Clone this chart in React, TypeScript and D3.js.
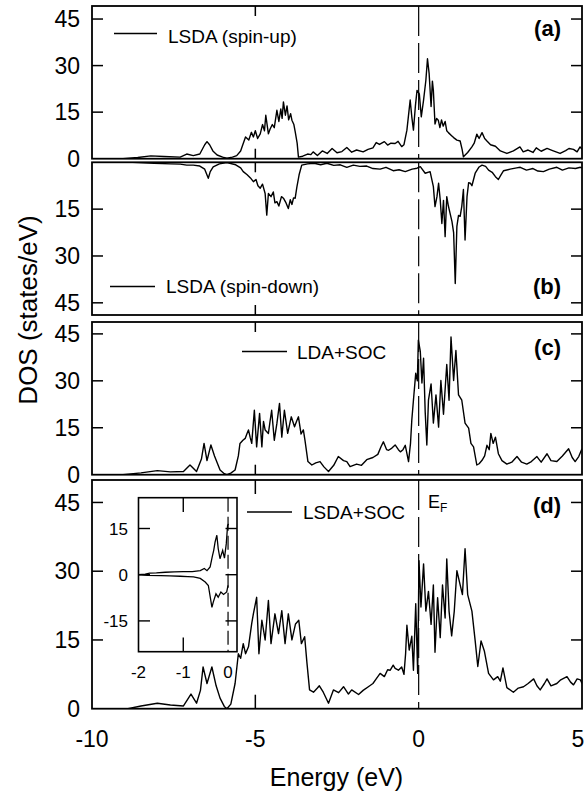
import React from 'react';
import * as d3 from 'd3';

type Pt = [number, number];

const energyTicks = [-10, -5, 0, 5];
const dosTicks = [0, 15, 30, 45];
const insetXTicks = [-2, -1, 0];
const insetYTicks = [-15, 0, 15];
const panelLabels = ['(a)', '(b)', '(c)', '(d)'];
const legendLabels = ['LSDA (spin-up)', 'LSDA (spin-down)', 'LDA+SOC', 'LSDA+SOC'];

// (a) LSDA spin-up DOS  [energy eV, states/eV]
const lsdaUp: Pt[] = [
  [-10, 0], [-9.05, 0], [-8.6, 0.4], [-8.2, 0.9], [-7.8, 0.7], [-7.3, 0.5], [-7.1, 1.5], [-6.9, 1.0], [-6.7, 1.5],
  [-6.55, 4.5], [-6.48, 5.5], [-6.4, 4.5], [-6.3, 2.5], [-6.17, 1.2], [-6.0, 0.5], [-5.87, 0.2], [-5.7, 0.5],
  [-5.57, 1], [-5.45, 2.5], [-5.4, 4], [-5.3, 7], [-5.2, 6], [-5.12, 8.5], [-5.06, 7], [-5.0, 9], [-4.93, 6.5],
  [-4.85, 8], [-4.78, 11], [-4.72, 9], [-4.68, 14], [-4.6, 8], [-4.55, 9.5], [-4.48, 11], [-4.42, 10],
  [-4.34, 15.6], [-4.28, 12], [-4.22, 16], [-4.18, 13], [-4.14, 18.3], [-4.08, 14], [-4.03, 17], [-3.98, 12.5],
  [-3.92, 14.5], [-3.88, 12.4], [-3.82, 11], [-3.78, 8.7], [-3.72, 5], [-3.68, 0.5], [-3.55, 0.8], [-3.4, 1.5],
  [-3.3, 1.3], [-3.23, 2.2], [-3.1, 1], [-2.95, 2.5], [-2.8, 1.7], [-2.65, 3.3], [-2.5, 1.9], [-2.35, 2.3],
  [-2.2, 3.6], [-2.05, 2.1], [-1.9, 2.8], [-1.7, 2.2], [-1.55, 3.0], [-1.4, 3.5], [-1.3, 5.2], [-1.2, 4.6],
  [-1.05, 5.5], [-0.95, 4.4], [-0.85, 5.0], [-0.72, 4.9], [-0.63, 5.6], [-0.52, 3.9], [-0.45, 4.5], [-0.36, 9.2],
  [-0.3, 15], [-0.26, 18.9], [-0.21, 13.5], [-0.16, 9.2], [-0.1, 17], [-0.05, 22], [0.02, 20.9], [0.08, 13.5],
  [0.15, 18.9], [0.22, 25.2], [0.27, 32.2], [0.32, 27.5], [0.38, 16.8], [0.42, 25], [0.45, 22], [0.5, 11.2],
  [0.55, 13], [0.6, 12.4], [0.65, 10], [0.7, 12.5], [0.75, 10.5], [0.81, 12], [0.86, 9], [0.91, 8.4], [1.0, 7.5],
  [1.07, 6.8], [1.17, 6], [1.27, 5.7], [1.33, 3], [1.37, 0.6], [1.5, 2], [1.63, 3.8], [1.7, 5], [1.78, 7.9],
  [1.85, 6.5], [1.94, 8.4], [2.02, 6.5], [2.09, 5.7], [2.2, 4.5], [2.35, 4], [2.5, 2.5], [2.7, 1.7], [2.9, 2.5],
  [3.1, 3.8], [3.2, 2.2], [3.35, 2.8], [3.5, 2], [3.6, 3.5], [3.75, 2.4], [3.93, 3.3], [4.1, 2.6], [4.33, 1.7],
  [4.5, 2.6], [4.6, 3.3], [4.74, 3], [4.85, 2.2], [4.94, 3.8], [5, 3],
];

// (b) LSDA spin-down DOS (plotted downward)
const lsdaDown: Pt[] = [
  [-10, 0], [-8.75, 0], [-8.1, 0.3], [-7.6, 0.5], [-7.3, 0.6], [-7.1, 0.9], [-6.9, 0.9], [-6.7, 1.2], [-6.55, 2.2],
  [-6.44, 5.1], [-6.38, 3], [-6.29, 1.5], [-6.1, 0.5], [-5.87, 0.1], [-5.6, 0.8], [-5.45, 1.8], [-5.37, 3],
  [-5.25, 4], [-5.15, 5], [-5.06, 6.2], [-4.98, 5.5], [-4.92, 7.5], [-4.85, 8.3], [-4.78, 7], [-4.7, 10],
  [-4.65, 16.9], [-4.6, 10], [-4.52, 11], [-4.45, 9.5], [-4.4, 13], [-4.34, 12.6], [-4.28, 14], [-4.2, 11],
  [-4.14, 11.5], [-4.06, 13], [-3.99, 14.8], [-3.93, 12], [-3.88, 13.5], [-3.83, 11.4], [-3.78, 11.5],
  [-3.73, 8], [-3.66, 4], [-3.58, 0.9], [-3.4, 0.5], [-3.2, 0.3], [-3.0, 0.8], [-2.81, 0.3], [-2.6, 1.0],
  [-2.4, 0.8], [-2.2, 1.6], [-2.0, 0.9], [-1.8, 1.3], [-1.59, 1.2], [-1.4, 2.0], [-1.18, 2.2], [-1.0, 1.6],
  [-0.78, 2.7], [-0.6, 2.4], [-0.41, 3.0], [-0.2, 2.2], [-0.05, 1.9], [0.05, 1.4], [0.2, 3.5], [0.35, 3],
  [0.45, 7.8], [0.5, 14.2], [0.56, 11], [0.61, 6.7], [0.66, 12], [0.71, 19.6], [0.76, 12.2], [0.81, 23.8],
  [0.86, 11], [0.91, 14], [0.96, 16.3], [1.02, 19], [1.07, 22.5], [1.12, 38.8], [1.17, 20.5], [1.22, 17],
  [1.27, 17.3], [1.32, 14.1], [1.37, 8.7], [1.42, 24.9], [1.48, 11], [1.53, 6.5], [1.58, 6.7], [1.63, 7.5],
  [1.73, 3.5], [1.85, 1.5], [1.94, 0.9], [2.05, 1.3], [2.14, 2.5], [2.25, 3.2], [2.35, 4.6], [2.44, 5.5],
  [2.52, 4], [2.6, 2.7], [2.8, 2.2], [3.0, 1.8], [3.11, 1.6], [3.3, 2.5], [3.5, 2], [3.65, 2.8], [3.82, 3],
  [4.0, 2.2], [4.23, 1.6], [4.4, 2.5], [4.6, 1.8], [4.8, 2], [4.95, 1.6], [5, 1.8],
];

// (c) LDA+SOC DOS
const ldaSoc: Pt[] = [
  [-10, 0], [-9.05, 0], [-8.5, 0.6], [-8.0, 1.3], [-7.6, 0.9], [-7.2, 1], [-7.0, 3.1], [-6.8, 1], [-6.65, 5],
  [-6.57, 10], [-6.48, 4.5], [-6.36, 9.5], [-6.25, 6], [-6.08, 1.5], [-5.95, 0.3], [-5.87, 0], [-5.75, 0.5],
  [-5.62, 1.5], [-5.52, 6], [-5.47, 10], [-5.38, 11], [-5.31, 11.6], [-5.26, 13], [-5.21, 14.3], [-5.16, 12],
  [-5.11, 10], [-5.03, 20.6], [-4.96, 8.9], [-4.87, 19.6], [-4.8, 8.9], [-4.75, 17], [-4.7, 14.3], [-4.6, 13.2],
  [-4.55, 17], [-4.5, 20.6], [-4.42, 11], [-4.34, 16.4], [-4.26, 22.8], [-4.19, 12], [-4.11, 20.6],
  [-4.01, 13.2], [-3.9, 18.5], [-3.8, 15.3], [-3.74, 17], [-3.68, 18.5], [-3.6, 13], [-3.53, 14.3],
  [-3.48, 11], [-3.39, 4.2], [-3.27, 3.1], [-3.15, 3.8], [-3.02, 4.2], [-2.9, 2.5], [-2.76, 1], [-2.6, 3],
  [-2.46, 5.8], [-2.3, 4.5], [-2.2, 4.2], [-2.1, 2.6], [-1.9, 3.4], [-1.75, 3], [-1.59, 4.8], [-1.4, 5.5],
  [-1.25, 6.5], [-1.15, 9], [-1.08, 10.5], [-0.98, 8], [-0.92, 7.8], [-0.82, 8.5], [-0.72, 9.5], [-0.62, 8],
  [-0.56, 7.3], [-0.48, 8], [-0.41, 9.4], [-0.31, 4.2], [-0.25, 10], [-0.21, 17.5], [-0.16, 23.8],
  [-0.09, 32.4], [-0.04, 30], [-0.01, 43], [0.05, 39.4], [0.1, 29.3], [0.15, 37.2], [0.2, 20], [0.25, 9.5],
  [0.3, 23.8], [0.38, 29], [0.45, 16.5], [0.53, 25.5], [0.61, 15.2], [0.68, 30.1], [0.76, 19.3], [0.86, 35.2],
  [0.93, 23.8], [0.99, 44], [1.07, 30.1], [1.14, 39.7], [1.22, 25.5], [1.32, 23.8], [1.42, 16.5], [1.53, 14.9],
  [1.6, 10], [1.68, 8.9], [1.78, 3.1], [1.85, 3.5], [1.94, 4.6], [2.02, 6], [2.09, 9.4], [2.16, 8], [2.21, 13.2],
  [2.28, 10], [2.35, 12], [2.44, 6.7], [2.55, 4.5], [2.7, 3.4], [2.85, 4], [3.01, 5.8], [3.15, 4], [3.31, 3.4],
  [3.45, 4.2], [3.62, 5.8], [3.75, 4], [3.93, 6.7], [4.05, 4.5], [4.23, 4.2], [4.4, 6], [4.59, 8.3], [4.7, 5.5],
  [4.79, 4.2], [4.9, 5.8], [5.0, 8.3],
];

// (d) LSDA+SOC DOS
const lsdaSoc: Pt[] = [
  [-10, 0], [-8.9, 0], [-8.5, 0.6], [-8.0, 1.2], [-7.6, 0.8], [-7.2, 0.6], [-6.97, 3.2], [-6.8, 1.2], [-6.68, 4],
  [-6.6, 9.1], [-6.48, 5.5], [-6.33, 9.1], [-6.2, 5], [-6.08, 2.3], [-5.95, 0.5], [-5.87, 0], [-5.75, 1],
  [-5.62, 5.5], [-5.52, 12], [-5.45, 11], [-5.37, 14.2], [-5.3, 12], [-5.21, 13.5], [-5.11, 18.6], [-5.06, 20.7],
  [-4.96, 24.3], [-4.89, 12], [-4.8, 19.3], [-4.7, 15], [-4.6, 23.6], [-4.52, 14.2], [-4.4, 20.7], [-4.29, 16.4],
  [-4.19, 21.4], [-4.09, 14.2], [-3.99, 20.7], [-3.88, 15], [-3.77, 18.5], [-3.67, 19.3], [-3.59, 14.2],
  [-3.49, 15.7], [-3.42, 10], [-3.34, 4.1], [-3.22, 3.6], [-3.1, 4.5], [-3.04, 5], [-2.92, 3.6], [-2.76, 1.2],
  [-2.61, 4.1], [-2.45, 3.5], [-2.3, 4.8], [-2.15, 3.2], [-2.05, 4.1], [-1.84, 3.1], [-1.7, 4], [-1.54, 4.8],
  [-1.4, 5.5], [-1.3, 6.5], [-1.18, 7.7], [-1.05, 7], [-0.95, 8.5], [-0.87, 8.4], [-0.78, 9.5], [-0.72, 8.8],
  [-0.62, 8.4], [-0.52, 9.1], [-0.45, 7.5], [-0.4, 12], [-0.36, 18.2], [-0.29, 12.8], [-0.21, 15.8],
  [-0.16, 8.4], [-0.09, 22.9], [-0.03, 7.7], [0.01, 32.3], [0.07, 22.2], [0.15, 31.6], [0.22, 21.3], [0.3, 25.6],
  [0.38, 18.4], [0.45, 27], [0.5, 12.3], [0.58, 24.2], [0.66, 15.5], [0.73, 27], [0.81, 19.8], [0.86, 32.7],
  [0.93, 21.3], [1.01, 15.9], [1.09, 21.3], [1.17, 30.1], [1.27, 27], [1.34, 24.9], [1.42, 34.9], [1.5, 24.9],
  [1.63, 21.3], [1.73, 14.8], [1.81, 9.2], [1.91, 14.8], [2.01, 12.6], [2.14, 7.7], [2.29, 6.3], [2.42, 7],
  [2.5, 6], [2.58, 8.9], [2.7, 4.6], [2.9, 3.6], [3.05, 4.5], [3.21, 4.8], [3.35, 5.5], [3.52, 6.5], [3.62, 5],
  [3.72, 4.1], [3.85, 5.5], [3.93, 6.5], [4.05, 5], [4.23, 5.5], [4.35, 6.3], [4.54, 7], [4.65, 5.8], [4.74, 5.2],
  [4.85, 6.5], [4.95, 6.3], [5.0, 5.5],
];

// inset: LSDA+SOC spin-resolved near E_F
const insetUp: Pt[] = [
  [-2, 0], [-1.85, 0.2], [-1.75, 0.5], [-1.6, 0.6], [-1.4, 0.8], [-1.2, 0.9], [-1.0, 1.0], [-0.8, 1.0],
  [-0.62, 1.3], [-0.53, 2.0], [-0.47, 1.3], [-0.4, 2.5], [-0.35, 6], [-0.32, 7.9], [-0.29, 10.6], [-0.25, 12.8],
  [-0.22, 8.5], [-0.18, 5.2], [-0.12, 7.9], [-0.08, 5.4], [-0.04, 10], [-0.01, 16], [0.01, 16.5],
];
const insetDown: Pt[] = [
  [-2, 0], [-1.8, -0.2], [-1.5, -0.3], [-1.3, -0.4], [-1.07, -0.5], [-0.9, -0.6], [-0.77, -0.7], [-0.62, -1.2],
  [-0.51, -2.4], [-0.44, -3.5], [-0.36, -10.6], [-0.33, -8.9], [-0.27, -6.2], [-0.22, -7.3], [-0.16, -5.6],
  [-0.1, -6.4], [-0.03, -5.6], [0, -3.5],
];

const FONT = '"Liberation Sans", Arial, Helvetica, sans-serif';

export default function App() {
  const x = d3.scaleLinear().domain([-10, 5]).range([92, 582]);
  const series = [lsdaUp, lsdaDown, ldaSoc, lsdaSoc];
  const yScales = [
    d3.scaleLinear().domain([0, 49.2]).range([158.7, 6]),
    d3.scaleLinear().domain([0, 48.9]).range([162.3, 315]),
    d3.scaleLinear().domain([0, 48.8]).range([474.7, 322]),
    d3.scaleLinear().domain([0, 49.9]).range([708.7, 480]),
  ];
  const legendPos = [
    { x1: 114, x2: 157, ly: 33.5, tx: 168, ty: 42.5 },
    { x1: 110, x2: 155, ly: 286.5, tx: 166, ty: 293 },
    { x1: 242, x2: 287, ly: 351.5, tx: 297, ty: 358.5 },
    { x1: 247, x2: 292, ly: 512, tx: 303, ty: 518.5 },
  ];
  const labelPos = [35.5, 293.5, 355, 512.5];
  const xTickLen = [10, 10, 10, 14];
  const yTickLen = 11;

  const ix = d3.scaleLinear().domain([-2, 0.2]).range([138.5, 237]);
  const iy = d3.scaleLinear().domain([-25, 25]).range([651.7, 497.7]);

  return (
    <svg width={586} height={793} style={{ position: 'absolute', left: 0, top: 0, background: '#fff' }} fontFamily={FONT}>
      <rect x={0} y={0} width={586} height={793} fill="#fff" />
      <defs>
        {yScales.map((y, i) => {
          const [r0, r1] = y.range();
          return (
            <clipPath id={`clip${i}`} key={i}>
              <rect x={92} y={Math.min(r0, r1)} width={490} height={Math.abs(r1 - r0)} />
            </clipPath>
          );
        })}
        <clipPath id="clipInset">
          <rect x={138.5} y={497.7} width={98.5} height={154} />
        </clipPath>
      </defs>
      {yScales.map((y, i) => {
        const [r0, r1] = y.range();
        const top = Math.min(r0, r1);
        const bottom = Math.max(r0, r1);
        const line = d3.line<Pt>().x((d) => x(d[0])).y((d) => y(d[1]));
        const lp = legendPos[i];
        return (
          <g key={i}>
            <line x1={x(0)} x2={x(0)} y1={top} y2={bottom} stroke="#000" strokeWidth={1.2} strokeDasharray="30 7" />
            <path d={line(series[i]) || ''} fill="none" stroke="#000" strokeWidth={1.4} strokeLinejoin="round" clipPath={`url(#clip${i})`} />
            {dosTicks.filter((t) => t > 0).map((t) => (
              <g key={t}>
                <line x1={92} x2={92 + yTickLen} y1={y(t)} y2={y(t)} stroke="#000" strokeWidth={1.5} />
                <line x1={582 - yTickLen} x2={582} y1={y(t)} y2={y(t)} stroke="#000" strokeWidth={1.5} />
              </g>
            ))}
            {energyTicks.filter((t) => t === -5).map((t) => (
              <g key={t}>
                <line x1={x(t)} x2={x(t)} y1={top} y2={top + xTickLen[i]} stroke="#000" strokeWidth={1.5} />
                <line x1={x(t)} x2={x(t)} y1={bottom - xTickLen[i]} y2={bottom} stroke="#000" strokeWidth={1.5} />
              </g>
            ))}
            <rect x={92} y={top} width={490} height={bottom - top} fill="none" stroke="#000" strokeWidth={1.8} />
            {dosTicks.filter((t) => !(i === 1 && t === 0)).map((t) => (
              <text key={t} x={80} y={y(t)} dy="0.36em" textAnchor="end" fontSize={23}>{t}</text>
            ))}
            <line x1={lp.x1} x2={lp.x2} y1={lp.ly} y2={lp.ly} stroke="#000" strokeWidth={1.4} />
            <text x={lp.tx} y={lp.ty} fontSize={19}>{legendLabels[i]}</text>
            <text x={561} y={labelPos[i]} textAnchor="end" fontSize={22} fontWeight="bold">{panelLabels[i]}</text>
          </g>
        );
      })}
      <text x={428} y={508} fontSize={18}>E<tspan fontSize={12} dy={4}>F</tspan></text>

      {/* inset */}
      <g>
        <rect x={138.5} y={497.7} width={98.5} height={154} fill="#fff" />
        <line x1={ix(0)} x2={ix(0)} y1={497.7} y2={651.7} stroke="#000" strokeWidth={1.2} strokeDasharray="14 5" />
        {[insetUp, insetDown].map((s, k) => (
          <path key={k} d={d3.line<Pt>().x((d) => ix(d[0])).y((d) => iy(d[1]))(s) || ''} fill="none" stroke="#000" strokeWidth={1.3} clipPath="url(#clipInset)" />
        ))}
        {insetYTicks.map((t) => (
          <g key={t}>
            <line x1={138.5} x2={150} y1={iy(t)} y2={iy(t)} stroke="#000" strokeWidth={1.4} />
            <line x1={225.5} x2={237} y1={iy(t)} y2={iy(t)} stroke="#000" strokeWidth={1.4} />
            <text x={128} y={iy(t)} dy="0.36em" textAnchor="end" fontSize={17}>{t}</text>
          </g>
        ))}
        {insetXTicks.map((t) => (
          <g key={t}>
            {t === -1 && (
              <>
                <line x1={ix(t)} x2={ix(t)} y1={497.7} y2={512} stroke="#000" strokeWidth={1.4} />
                <line x1={ix(t)} x2={ix(t)} y1={637.5} y2={651.7} stroke="#000" strokeWidth={1.4} />
              </>
            )}
            <text x={ix(t)} y={678} textAnchor="middle" fontSize={17}>{t}</text>
          </g>
        ))}
        <rect x={138.5} y={497.7} width={98.5} height={154} fill="none" stroke="#000" strokeWidth={1.6} />
      </g>

      {energyTicks.map((t) => (
        <text key={t} x={Math.min(x(t), 578)} y={747} textAnchor="middle" fontSize={23}>{t}</text>
      ))}
      <text x={336.5} y={786} textAnchor="middle" fontSize={25}>Energy (eV)</text>
      <text transform="translate(37,310) rotate(-90)" textAnchor="middle" fontSize={26}>DOS (states/eV)</text>
    </svg>
  );
}
